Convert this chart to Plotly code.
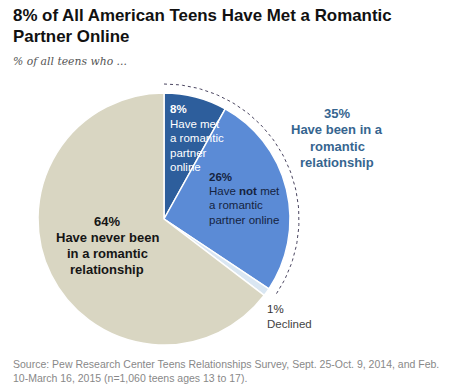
import numpy as np
import plotly.graph_objects as go

W, H = 450, 386
categories = ["Have met a romantic partner online",
              "Have not met a romantic partner online",
              "Declined",
              "Have never been in a romantic relationship"]
values = [8, 26, 1, 64]
colors = ["#2d5e9c", "#5b8bd6", "#d9e6f2", "#d9d6c2"]

# pie placement (pixels)
cx, cy, r = 164, 219, 126

fig = go.Figure()
fig.add_trace(go.Pie(
    labels=categories, values=values, sort=False, direction="clockwise",
    rotation=0, textinfo="none", hoverinfo="label+value",
    marker=dict(colors=colors, line=dict(color="white", width=1.5)),
    domain=dict(x=[(cx - r) / W, (cx + r) / W], y=[(H - cy - r) / H, (H - cy + r) / H]),
    showlegend=False,
))

# dotted arc around the "been in a relationship" share
frac = (values[0] + values[1]) / sum(values)
t = np.linspace(0, 2 * np.pi * frac, 80)
ra = 135
fig.add_trace(go.Scatter(
    x=cx + ra * np.sin(t), y=cy - ra * np.cos(t), mode="lines",
    line=dict(color="#4a4560", width=1, dash="dot"), hoverinfo="skip",
    showlegend=False,
))

fig.update_layout(
    width=W, height=H, margin=dict(l=0, r=0, t=0, b=0),
    paper_bgcolor="white", plot_bgcolor="rgba(0,0,0,0)",
    xaxis=dict(range=[0, W], visible=False, fixedrange=True),
    yaxis=dict(range=[H, 0], visible=False, fixedrange=True),
)

SANS = "Liberation Sans, Arial, sans-serif"

def ann(x, y, text, size, color, align="left", xanchor="left", font=SANS):
    fig.add_annotation(x=x, y=y, xref="x", yref="y", text=text, showarrow=False,
                       xanchor=xanchor, yanchor="middle", align=align,
                       font=dict(size=size, color=color, family=font))

# title & subtitle
ann(11, 15, "<b>8% of All American Teens Have Met a Romantic</b>", 16.9, "#111111")
ann(11, 36, "<b>Partner Online</b>", 16.9, "#111111")
ann(11, 61, "<i>% of all teens who ...</i>", 10.8, "#555555", font="DejaVu Serif, Georgia, serif")

# 8% label
ann(168, 109, "<b>8%</b>", 11.5, "white")
for yy, s in zip([124, 138, 153, 167], ["Have met", "a romantic", "partner", "online"]):
    ann(168, yy, s, 11.5, "white")

# 26% label
ann(207, 177, "<b>26%</b>", 11.5, "#15233f")
for yy, s in zip([191, 205, 220], ["Have <b>not</b> met", "a romantic", "partner online"]):
    ann(207, yy, s, 11.5, "#15233f")

# 35% label
for yy, s in zip([113, 129, 146, 162], ["35%", "Have been in a", "romantic", "relationship"]):
    ann(337, yy, "<b>" + s + "</b>", 13, "#36658f", xanchor="center")

# 64% label
for yy, s in zip([221, 237, 253, 269], ["64%", "Have never been", "in a romantic", "relationship"]):
    ann(107, yy, "<b>" + s + "</b>", 13, "#151515", xanchor="center")

# declined label
ann(265, 309, "1%", 11.5, "#333333")
ann(265, 324, "Declined", 11.5, "#444444")

# source
ann(11, 364, "Source: Pew Research Center Teens Relationships Survey, Sept. 25-Oct. 9, 2014, and Feb.", 10.5, "#888888")
ann(11, 378, "10-March 16, 2015 (n=1,060 teens ages 13 to 17).", 10.5, "#888888")

fig.write_html("out.html", config={"displayModeBar": False},
               post_script="document.body.style.margin='0';document.body.style.overflow='hidden';")
